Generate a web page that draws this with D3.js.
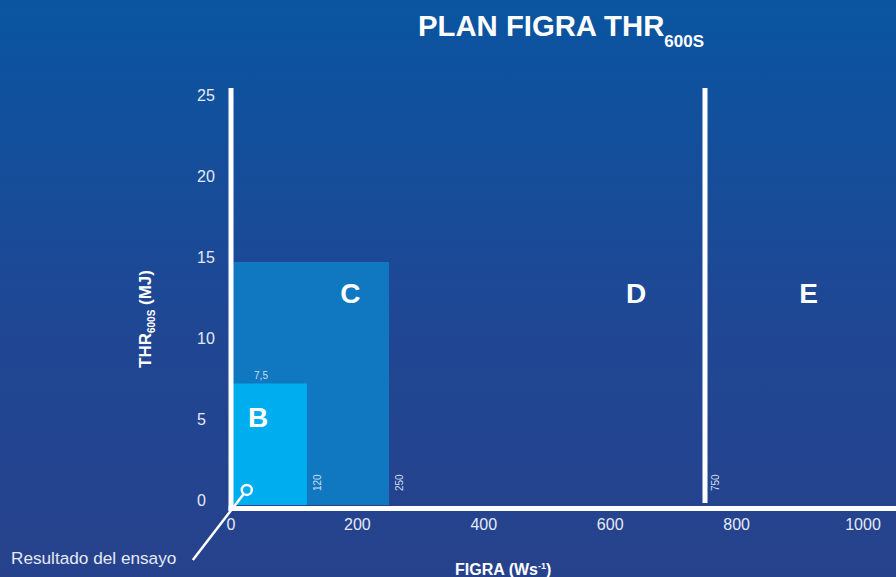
<!DOCTYPE html>
<html>
<head>
<meta charset="utf-8">
<script src="https://cdn.jsdelivr.net/npm/d3@7"></script>
<style>
  html, body { margin: 0; padding: 0; background: #1a4a96; }
  svg { display: block; font-family: "Liberation Sans", Arial, Helvetica, sans-serif; }
</style>
</head>
<body>
<svg id="chart" width="896" height="577"></svg>
<script>
// euroclass limits (FIGRA in W/s, THR600s in MJ)
const classNames = ["B", "C", "D", "E"];
const figraLimits = [120, 250, 750, null];
const thrLimits = [7.5, 15, null, null];
const limitLabels = ["120", "250", "750"];
// where the class letters sit, in data units
const labelFigra = [43, 189, 641, 914];
const labelThr = [4.8, 12.5, 12.5, 12.5];

const xTicks = [0, 200, 400, 600, 800, 1000];
const yTicks = [0, 5, 10, 15, 20, 25];

// test result point
const testFigra = [25];
const testThr = [0.93];

const W = 896, H = 577;
const svg = d3.select("#chart");

const defs = svg.append("defs");
const grad = defs.append("linearGradient")
    .attr("id", "bg").attr("x1", 0).attr("y1", 0).attr("x2", 0).attr("y2", 1);
grad.append("stop").attr("offset", "0%").attr("stop-color", "#0a55a1");
grad.append("stop").attr("offset", "55%").attr("stop-color", "#1f4794");
grad.append("stop").attr("offset", "100%").attr("stop-color", "#27428c");

svg.append("rect").attr("width", W).attr("height", H).attr("fill", "url(#bg)");

let x = d3.scaleLinear().domain([0, 1000]).range([231, 863]);
let y = d3.scaleLinear().domain([0, 25]).range([505, 100]);

const base = y(0);
const lineTop = y(25) - 12;
const fills = { B: "#00aeef", C: "#0f78c0" };

// C first so B is painted over it
[1, 0].forEach(function(i) {
  svg.append("rect")
    .attr("x", x(0))
    .attr("y", y(thrLimits[i]))
    .attr("width", x(figraLimits[i]) - x(0))
    .attr("height", base - y(thrLimits[i]))
    .attr("fill", fills[classNames[i]]);
});

// axes (thick white lines)
svg.append("line")
    .attr("x1", x(0)).attr("x2", x(0))
    .attr("y1", lineTop).attr("y2", base + 6)
    .attr("stroke", "#fff").attr("stroke-width", 5);
svg.append("line")
    .attr("x1", x(0) - 2.5).attr("x2", W)
    .attr("y1", base + 3.5).attr("y2", base + 3.5)
    .attr("stroke", "#fff").attr("stroke-width", 5);
// D / E border
svg.append("line")
    .attr("x1", x(figraLimits[2])).attr("x2", x(figraLimits[2]))
    .attr("y1", lineTop).attr("y2", base - 2)
    .attr("stroke", "#fff").attr("stroke-width", 5);

// y tick labels
svg.selectAll(".ytick").data(yTicks).enter().append("text")
    .attr("class", "ytick")
    .attr("x", 197)
    .attr("y", function(d) { return y(d) + 1; })
    .attr("fill", "#e4eaf4")
    .attr("font-size", 16)
    .text(function(d) { return d; });

// x tick labels
svg.selectAll(".xtick").data(xTicks).enter().append("text")
    .attr("class", "xtick")
    .attr("x", function(d) { return x(d); })
    .attr("y", 530)
    .attr("text-anchor", "middle")
    .attr("fill", "#e4eaf4")
    .attr("font-size", 16)
    .text(function(d) { return d; });

// limit labels (rotated)
limitLabels.forEach(function(t, i) {
  svg.append("text")
    .attr("transform", "translate(" + (x(figraLimits[i]) + 14) + "," + (base - 14) + ") rotate(-90)")
    .attr("fill", "#cfdcef")
    .attr("font-size", 10)
    .text(t);
});

// "7,5" label above B
svg.append("text")
    .attr("x", x(0) + 30)
    .attr("y", y(thrLimits[0]) - 5)
    .attr("text-anchor", "middle")
    .attr("fill", "#cfdcef")
    .attr("font-size", 10)
    .text("7,5");

// class letters
svg.selectAll(".cls").data(classNames).enter().append("text")
    .attr("class", "cls")
    .attr("x", function(d, i) { return x(labelFigra[i]); })
    .attr("y", function(d, i) { return y(labelThr[i]); })
    .attr("text-anchor", "middle")
    .attr("fill", "#fff")
    .attr("font-size", 28)
    .attr("font-weight", "bold")
    .text(function(d) { return d; });

// test result marker + leader
const cx = x(testFigra[0]), cy = y(testThr[0]);
svg.append("line")
    .attr("x1", cx - 3.5).attr("y1", cy + 4.5)
    .attr("x2", cx - 54).attr("y2", cy + 70)
    .attr("stroke", "#fff").attr("stroke-width", 2.5);
svg.append("circle")
    .attr("cx", cx).attr("cy", cy).attr("r", 5)
    .attr("fill", "none").attr("stroke", "#fff").attr("stroke-width", 2.5);
svg.append("text")
    .attr("x", 11).attr("y", 564)
    .attr("fill", "#e4eaf4")
    .attr("font-size", 17.2)
    .text("Resultado del ensayo");

// title
const title = svg.append("text")
    .attr("x", 418).attr("y", 36)
    .attr("fill", "#fff")
    .attr("font-size", 29.3)
    .attr("font-weight", "bold");
title.append("tspan").text("PLAN FIGRA THR");
title.append("tspan").attr("font-size", 17).attr("dy", 11).text("600S");

// y axis title
const yt = svg.append("text")
    .attr("transform", "translate(151,368) rotate(-90)")
    .attr("fill", "#fff")
    .attr("font-size", 17)
    .attr("font-weight", "bold");
yt.append("tspan").text("THR");
yt.append("tspan").attr("font-size", 10).attr("dy", 4).text("600S");
yt.append("tspan").attr("dy", -4).text(" (MJ)");

// x axis title
const xt = svg.append("text")
    .attr("x", 455).attr("y", 575)
    .attr("fill", "#fff")
    .attr("font-size", 16)
    .attr("font-weight", "bold");
xt.append("tspan").text("FIGRA (Ws");
xt.append("tspan").attr("font-size", 9).attr("dy", -6).text("-1");
xt.append("tspan").attr("dy", 6).text(")");
</script>
</body>
</html>
